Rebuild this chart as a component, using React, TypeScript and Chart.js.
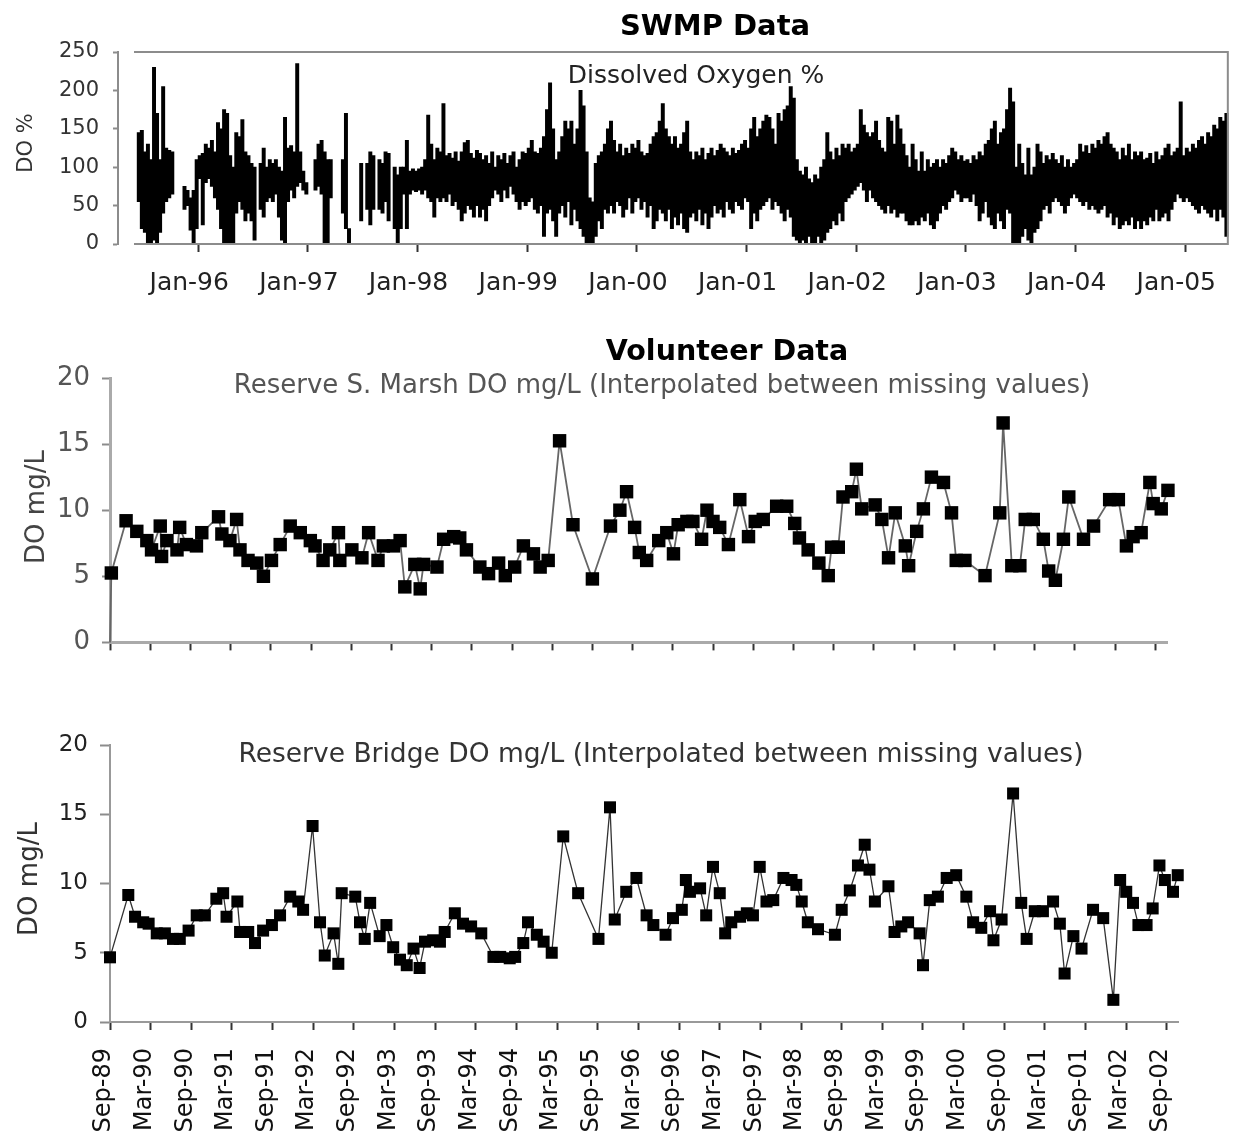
import React, { useEffect, useRef } from "react";
import { Chart, registerables } from "chart.js";

Chart.register(...registerables);

const FONT = '"DejaVu Sans", "Liberation Sans", Arial, sans-serif';
const PAGE_W = 1241;

// ---------------------------------------------------------------------------
// SWMP continuous sonde record: range of DO % within each ~10-day interval
// (36 intervals per year). [low, high]; null = no sonde data in that interval.
// ---------------------------------------------------------------------------
const swmp1995First = 16; // 1995 record starts at interval 16
const swmp1995: ([number, number] | null)[] = [
  [55, 145], [20, 148], [15, 120], [0, 130], [0, 110], [5, 230], [0, 170], [15, 110], [40, 205], [55, 125],
  [60, 122], [65, 120], null, null, null, [45, 75], [50, 70], [18, 60], [0, 70], [20, 110],
];
const swmp1996: ([number, number] | null)[] = [
  [85, 115], [25, 118], [80, 130], [85, 125], [75, 135], [60, 120], [45, 158], [20, 150], [0, 175], [0, 170],
  [0, 115], [0, 100], [40, 145], [55, 140], [45, 162], [30, 120], [40, 115], [30, 105], [5, 100], null,
  [45, 105], [35, 125], [55, 100], [60, 110], [55, 105], [65, 110], [35, 100], [5, 95], [0, 165], [55, 125],
  [70, 128], [60, 120], [75, 235], [80, 120], [70, 95], [65, 80],
];
const swmp1997: ([number, number] | null)[] = [
  null, null, [70, 110], [75, 130], [65, 135], [0, 120], [0, 110], [60, 110], null, null,
  null, [40, 110], [20, 170], [0, 20], null, null, null, [30, 105], null, [45, 105],
  [25, 120], [45, 115], null, [45, 110], [40, 105], [55, 120], [30, 118], null, [20, 100], [0, 90],
  [20, 100], [65, 100], [20, 135], [65, 95], [70, 98], [68, 95],
];
const swmp1998: ([number, number] | null)[] = [
  [70, 98], [65, 100], [70, 110], [60, 168], [55, 130], [35, 110], [60, 125], [55, 120], [60, 183], [55, 115],
  [65, 118], [50, 112], [55, 120], [45, 108], [30, 120], [40, 132], [50, 135], [45, 118], [35, 112], [50, 122],
  [35, 118], [45, 110], [30, 115], [50, 105], [60, 120], [70, 100], [65, 115], [55, 110], [70, 118], [60, 105],
  [75, 115], [65, 120], [55, 100], [45, 110], [55, 120], [50, 118],
];
const swmp1999: ([number, number] | null)[] = [
  [55, 125], [60, 135], [45, 120], [40, 118], [50, 125], [10, 140], [40, 175], [45, 210], [30, 150], [10, 110],
  [40, 120], [50, 140], [35, 160], [55, 150], [25, 160], [45, 130], [30, 150], [20, 200], [10, 180], [0, 120],
  [0, 60], [0, 55], [10, 105], [30, 115], [20, 120], [45, 130], [40, 150], [50, 160], [40, 135], [55, 120],
  [50, 130], [35, 115], [45, 125], [60, 118], [40, 130], [55, 125],
];
const swmp2000: ([number, number] | null)[] = [
  [60, 135], [45, 120], [55, 115], [35, 118], [50, 130], [20, 140], [30, 145], [45, 160], [40, 183], [30, 150],
  [45, 140], [20, 130], [35, 140], [25, 125], [40, 130], [20, 145], [15, 160], [35, 120], [40, 110], [30, 120],
  [45, 115], [25, 125], [40, 110], [20, 118], [35, 125], [50, 115], [40, 122], [45, 130], [35, 125], [55, 120],
  [45, 115], [40, 125], [55, 118], [50, 122], [45, 130], [60, 135],
];
const swmp2001: ([number, number] | null)[] = [
  [55, 125], [20, 150], [40, 165], [30, 140], [45, 150], [50, 160], [55, 168], [60, 165], [45, 150], [55, 130],
  [50, 170], [40, 160], [30, 175], [45, 180], [35, 205], [10, 190], [5, 110], [0, 95], [5, 90], [0, 100],
  [10, 85], [0, 80], [0, 90], [10, 85], [0, 100], [5, 110], [15, 145], [20, 120], [30, 110], [25, 125],
  [40, 115], [30, 130], [55, 125], [60, 130], [65, 120], [70, 125],
];
const swmp2002: ([number, number] | null)[] = [
  [75, 130], [80, 175], [70, 155], [55, 145], [70, 140], [60, 145], [55, 160], [50, 135], [45, 125], [40, 120],
  [50, 165], [40, 160], [45, 130], [35, 168], [40, 150], [40, 130], [30, 115], [25, 100], [25, 130], [30, 110],
  [25, 95], [35, 120], [30, 95], [40, 110], [25, 100], [20, 105], [30, 110], [40, 100], [50, 110], [45, 105],
  [55, 115], [60, 125], [70, 120], [65, 110], [55, 115], [60, 108],
];
const swmp2003: ([number, number] | null)[] = [
  [60, 110], [55, 105], [65, 115], [50, 110], [30, 120], [40, 115], [55, 130], [35, 135], [25, 150], [20, 160],
  [40, 130], [30, 145], [20, 150], [45, 175], [40, 203], [0, 185], [0, 100], [0, 130], [10, 105], [20, 90],
  [5, 125], [0, 90], [15, 100], [20, 130], [30, 120], [45, 105], [50, 115], [40, 110], [55, 118], [60, 110],
  [55, 105], [50, 115], [40, 100], [50, 110], [60, 100], [65, 105],
];
const swmp2004: ([number, number] | null)[] = [
  [60, 110], [55, 130], [50, 120], [55, 128], [45, 118], [50, 130], [45, 125], [40, 135], [45, 130], [50, 140],
  [35, 145], [40, 130], [25, 125], [35, 120], [20, 110], [25, 125], [30, 115], [25, 130], [35, 110], [20, 120],
  [30, 115], [20, 120], [30, 110], [25, 112], [35, 118], [30, 105], [45, 120], [30, 110], [35, 115], [40, 125],
  [30, 130], [45, 115], [55, 120], [65, 125], [60, 185], [55, 115],
];
const swmp2005: ([number, number] | null)[] = [
  [60, 125], [55, 120], [50, 130], [45, 125], [40, 135], [50, 140], [45, 130], [40, 145], [35, 140], [45, 155],
  [30, 150], [45, 165], [35, 160], [10, 170],
];

const swmpTickYears = [1996, 1997, 1998, 1999, 2000, 2001, 2002, 2003, 2004, 2005];
const swmpYTicks = [0, 50, 100, 150, 200, 250];

// ---------------------------------------------------------------------------
// Volunteer monitoring: months after Sep-89, DO mg/L
// ---------------------------------------------------------------------------
const marshMonth = [
  0, 0.2, 2.4, 4.0, 5.5, 6.2, 7.5, 7.7, 8.5, 10.0, 10.4, 11.4, 12.9, 13.7, 16.2, 16.7, 17.9, 18.9, 19.4, 20.6,
  21.9, 22.9, 24.1, 25.4, 26.9, 28.4, 29.9, 30.6, 31.8, 32.8, 34.1, 34.3, 36.1, 37.6, 38.6, 40.0, 40.8, 42.3, 43.3, 44.0,
  45.5, 46.3, 46.8, 48.8, 49.8, 51.3, 52.2, 53.2, 55.2, 56.5, 58.0, 59.0, 60.4, 61.7, 63.2, 64.2, 65.4, 67.1, 69.1, 72.0,
  74.7, 76.1, 77.1, 78.3, 79.0, 80.1, 81.9, 83.1, 84.1, 84.8, 86.1, 87.0, 88.3, 89.1, 90.0, 91.0, 92.3, 94.0, 95.3, 96.3,
  97.5, 99.5, 101.0, 102.2, 102.9, 104.2, 105.8, 107.2, 107.7, 108.7, 109.4, 110.7, 111.4, 112.2, 114.2, 115.2, 116.2, 117.2, 118.7, 119.2,
  120.4, 121.4, 122.6, 124.4, 125.6, 126.3, 127.6, 130.6, 132.8, 133.3, 134.6, 135.8, 136.6, 137.8, 139.3, 140.1, 141.1, 142.3, 143.1, 145.3,
  146.8, 149.2, 150.5, 151.7, 152.7, 153.9, 155.2, 155.7, 156.9, 157.9,
];
const marshDO = [
  0, 5.25, 9.2, 8.4, 7.7, 7.0, 8.8, 6.5, 7.7, 7.0, 8.7, 7.4, 7.3, 8.3, 9.5, 8.2, 7.7, 9.3, 7.0, 6.2,
  6.0, 5.0, 6.2, 7.4, 8.8, 8.3, 7.7, 7.3, 6.2, 7.0, 8.3, 6.2, 7.0, 6.4, 8.3, 6.2, 7.3, 7.3, 7.7, 4.2,
  5.9, 4.05, 5.9, 5.7, 7.8, 8.0, 7.9, 7.0, 5.7, 5.2, 6.0, 5.05, 5.7, 7.3, 6.7, 5.7, 6.2, 15.25, 8.9, 4.8,
  8.8, 10.0, 11.4, 8.7, 6.8, 6.2, 7.7, 8.3, 6.7, 8.9, 9.15, 9.15, 7.8, 10.0, 9.15, 8.7, 7.4, 10.8, 8.0, 9.15,
  9.3, 10.3, 10.3, 9.0, 7.9, 7.0, 6.0, 5.05, 7.2, 7.2, 11.0, 11.4, 13.1, 10.1, 10.4, 9.3, 6.4, 9.8, 7.3, 5.8,
  8.4, 10.1, 12.5, 12.1, 9.8, 6.2, 6.2, 5.05, 9.8, 16.6, 5.8, 5.8, 9.3, 9.3, 7.8, 5.4, 4.7, 7.8, 11.0, 7.8,
  8.8, 10.8, 10.8, 7.3, 8.0, 8.3, 12.1, 10.5, 10.1, 11.5,
];

const bridgeMonth = [
  0, 2.7, 3.7, 4.9, 5.7, 6.9, 8.1, 9.3, 10.3, 11.6, 12.8, 14.0, 15.7, 16.7, 17.2, 18.8, 19.2, 20.4, 21.4, 22.6,
  23.9, 25.1, 26.6, 27.8, 28.5, 29.9, 31.0, 31.7, 33.0, 33.7, 34.2, 36.2, 36.9, 37.6, 38.4, 39.8, 40.8, 41.8, 42.8, 43.8,
  44.8, 45.7, 46.5, 47.7, 48.7, 49.4, 50.9, 52.1, 53.3, 54.8, 56.6, 57.6, 59.0, 59.8, 61.0, 61.7, 63.0, 64.0, 65.2, 66.9,
  69.1, 72.1, 73.8, 74.5, 76.2, 77.7, 79.2, 80.2, 82.0, 83.1, 84.4, 85.0, 85.6, 87.1, 88.0, 89.0, 90.0, 90.8, 91.7, 93.0,
  94.0, 94.9, 95.9, 96.9, 97.9, 99.4, 100.6, 101.3, 102.1, 103.0, 104.5, 107.0, 108.0, 109.2, 110.4, 111.4, 112.1, 112.9, 114.9, 115.8,
  116.8, 117.8, 119.5, 120.0, 121.0, 122.2, 123.5, 124.9, 126.4, 127.4, 128.6, 129.9, 130.4, 131.6, 133.3, 134.5, 135.3, 136.5, 137.7, 139.2,
  140.2, 140.9, 142.2, 143.4, 145.1, 146.6, 148.1, 149.1, 150.0, 151.0, 151.8, 153.0, 153.9, 154.9, 155.7, 156.9, 157.6,
];
const bridgeDO = [
  4.67, 9.17, 7.6, 7.2, 7.1, 6.4, 6.4, 6.0, 6.0, 6.6, 7.7, 7.7, 8.9, 9.3, 7.6, 8.7, 6.5, 6.5, 5.7, 6.6,
  7.0, 7.7, 9.05, 8.7, 8.1, 14.15, 7.2, 4.8, 6.4, 4.2, 9.3, 9.05, 7.2, 6.0, 8.6, 6.2, 7.0, 5.4, 4.5, 4.1,
  5.3, 3.9, 5.8, 5.9, 5.8, 6.5, 7.85, 7.1, 6.9, 6.4, 4.7, 4.7, 4.6, 4.7, 5.7, 7.2, 6.3, 5.8, 5.0, 13.4,
  9.3, 6.0, 15.5, 7.4, 9.4, 10.4, 7.7, 7.0, 6.3, 7.5, 8.1, 10.25, 9.4, 9.65, 7.7, 11.2, 9.3, 6.4, 7.2, 7.6,
  7.85, 7.7, 11.2, 8.7, 8.8, 10.4, 10.25, 9.9, 8.7, 7.2, 6.7, 6.3, 8.1, 9.5, 11.3, 12.8, 11.0, 8.7, 9.8, 6.5,
  6.9, 7.2, 6.4, 4.1, 8.8, 9.05, 10.4, 10.6, 9.05, 7.2, 6.8, 8.0, 5.9, 7.4, 16.5, 8.6, 6.0, 8.0, 8.0, 8.7,
  7.1, 3.5, 6.2, 5.3, 8.1, 7.5, 1.6, 10.25, 9.4, 8.6, 7.0, 7.0, 8.2, 11.3, 10.25, 9.4, 10.6,
];

const volunteerTickLabels = [
  "Sep-89", "Mar-90", "Sep-90", "Mar-91", "Sep-91", "Mar-92", "Sep-92", "Mar-93", "Sep-93",
  "Mar-94", "Sep-94", "Mar-95", "Sep-95", "Mar-96", "Sep-96", "Mar-97", "Sep-97", "Mar-98",
  "Sep-98", "Mar-99", "Sep-99", "Mar-00", "Sep-00", "Mar-01", "Sep-01", "Mar-02", "Sep-02",
];
const volunteerYTicks = [0, 5, 10, 15, 20];

// ---------------------------------------------------------------------------

type Caption = { text: string; x: number; y: number; size: number; color: string; bold?: boolean; rotate?: boolean };

function captions(items: Caption[]) {
  return {
    id: "captions",
    afterDraw(chart: any) {
      const ctx = chart.ctx as CanvasRenderingContext2D;
      items.forEach((c) => {
        ctx.save();
        ctx.font = `${c.bold ? "bold " : ""}${c.size}px ${FONT}`;
        ctx.fillStyle = c.color;
        ctx.textAlign = "center";
        ctx.textBaseline = "alphabetic";
        ctx.translate(c.x, c.y);
        if (c.rotate) ctx.rotate(-Math.PI / 2);
        ctx.fillText(c.text, 0, 0);
        ctx.restore();
      });
    },
  };
}

// plot box of the SWMP panel: top, right and bottom edges, set in from the value axis
const swmpFrame = {
  id: "swmpFrame",
  afterDatasetsDraw(chart: any) {
    const { ctx, chartArea: a } = chart;
    const x0 = a.left + 16;
    ctx.save();
    ctx.strokeStyle = "#8c8c8c";
    ctx.lineWidth = 2;
    ctx.beginPath();
    ctx.moveTo(x0, a.top);
    ctx.lineTo(a.right - 1, a.top);
    ctx.lineTo(a.right - 1, a.bottom);
    ctx.lineTo(x0, a.bottom);
    ctx.stroke();
    ctx.restore();
  },
};

function yearBins(year: number, first: number, bins: ([number, number] | null)[]) {
  const out: { x: number; y: [number, number] }[] = [];
  bins.forEach((r, i) => {
    if (r) out.push({ x: year + (first + i + 0.5) / 36, y: r });
  });
  return out;
}

function swmpConfig(): any {
  const bins = [
    ...yearBins(1995, swmp1995First, swmp1995),
    ...yearBins(1996, 0, swmp1996),
    ...yearBins(1997, 0, swmp1997),
    ...yearBins(1998, 0, swmp1998),
    ...yearBins(1999, 0, swmp1999),
    ...yearBins(2000, 0, swmp2000),
    ...yearBins(2001, 0, swmp2001),
    ...yearBins(2002, 0, swmp2002),
    ...yearBins(2003, 0, swmp2003),
    ...yearBins(2004, 0, swmp2004),
    ...yearBins(2005, 0, swmp2005),
  ];
  return {
    type: "bar",
    data: {
      datasets: [
        { data: bins, backgroundColor: "#000", borderWidth: 0, barThickness: 3.3, grouped: false },
      ],
    },
    options: {
      responsive: false,
      animation: false,
      events: [],
      layout: { padding: { top: 52, right: 1, left: 0, bottom: 0 } },
      plugins: { legend: { display: false }, tooltip: { enabled: false }, title: { display: false } },
      scales: {
        x: {
          type: "linear",
          min: 1995.2688,
          max: 2005.397,
          offset: false,
          afterBuildTicks: (s: any) => {
            s.ticks = swmpTickYears.map((v) => ({ value: v }));
          },
          afterFit: (s: any) => {
            s.height = 56;
          },
          grid: { drawOnChartArea: false, drawTicks: true, tickLength: 8, tickWidth: 2, tickColor: "#333", offset: false },
          border: { display: false },
          ticks: {
            autoSkip: false,
            maxRotation: 0,
            minRotation: 0,
            padding: 16,
            labelOffset: -9,
            color: "#222",
            font: { family: FONT, size: 25 },
            callback: (v: any) => "Jan-" + String(v).slice(2),
          },
        },
        y: {
          min: 0,
          max: 250,
          afterBuildTicks: (s: any) => {
            s.ticks = swmpYTicks.map((v) => ({ value: v }));
          },
          afterFit: (s: any) => {
            s.width = 118;
          },
          grid: { drawOnChartArea: false, tickLength: 5, tickWidth: 2, color: "#8c8c8c" },
          border: { display: true, color: "#8c8c8c", width: 2 },
          ticks: { padding: 14, color: "#333", font: { family: FONT, size: 21 } },
        },
      },
    },
    plugins: [
      swmpFrame,
      captions([
        { text: "SWMP Data", x: 715, y: 35, size: 29, bold: true, color: "#000" },
        { text: "Dissolved Oxygen %", x: 696, y: 83, size: 25, color: "#222" },
        { text: "DO %", x: 32, y: 143, size: 21, color: "#333", rotate: true },
      ]),
    ],
  };
}

function volunteerConfig(opts: {
  months: number[];
  values: number[];
  max: number;
  padTop: number;
  padRight: number;
  axisHeight: number;
  axisColor: string;
  axisWidth: number;
  lineColor: string;
  lineWidth: number;
  markerRadius: number;
  tickFont: number;
  tickColor: string;
  yTickLength: number;
  showLabels: boolean;
  items: Caption[];
}): any {
  const points = opts.months.map((m, i) => ({ x: m, y: opts.values[i] }));
  return {
    type: "line",
    data: {
      datasets: [
        {
          data: points,
          borderColor: opts.lineColor,
          borderWidth: opts.lineWidth,
          tension: 0,
          clip: false,
          pointStyle: "rect",
          pointRadius: (c: any) => (c.raw && c.raw.y === 0 ? 0 : opts.markerRadius),
          pointBackgroundColor: "#000",
          pointBorderColor: "#000",
          pointBorderWidth: 0,
        },
      ],
    },
    options: {
      responsive: false,
      animation: false,
      events: [],
      layout: { padding: { top: opts.padTop, right: opts.padRight, left: 0, bottom: 0 } },
      plugins: { legend: { display: false }, tooltip: { enabled: false } },
      scales: {
        x: {
          type: "linear",
          min: 0,
          max: opts.max,
          offset: false,
          afterBuildTicks: (s: any) => {
            s.ticks = volunteerTickLabels.map((_, i) => ({ value: i * 6 }));
          },
          afterFit: (s: any) => {
            s.height = opts.axisHeight;
          },
          grid: { drawOnChartArea: false, tickLength: 8, tickWidth: 2, tickColor: "#333", offset: false },
          border: { display: true, color: opts.axisColor, width: opts.axisWidth },
          ticks: {
            display: opts.showLabels,
            autoSkip: false,
            maxRotation: 90,
            minRotation: 90,
            padding: 18,
            labelOffset: -6,
            color: "#111",
            font: { family: FONT, size: 24 },
            callback: (v: any) => volunteerTickLabels[Math.round(Number(v) / 6)],
          },
        },
        y: {
          min: 0,
          max: 20,
          afterBuildTicks: (s: any) => {
            s.ticks = volunteerYTicks.map((v) => ({ value: v }));
          },
          afterFit: (s: any) => {
            s.width = 110;
          },
          grid: { drawOnChartArea: false, tickLength: opts.yTickLength, tickWidth: 2, color: "#8c8c8c" },
          border: { display: true, color: opts.axisColor, width: opts.axisWidth },
          ticks: { padding: 12, color: opts.tickColor, font: { family: FONT, size: opts.tickFont } },
        },
      },
    },
    plugins: [captions(opts.items)],
  };
}

function marshConfig() {
  return volunteerConfig({
    months: marshMonth,
    values: marshDO,
    max: 157.76,
    padTop: 78,
    padRight: 74,
    axisHeight: 24,
    axisColor: "#aaaaaa",
    axisWidth: 3,
    lineColor: "#666",
    lineWidth: 1.8,
    markerRadius: 9.5,
    tickFont: 26,
    tickColor: "#555",
    yTickLength: 8,
    showLabels: false,
    items: [
      { text: "Volunteer Data", x: 727, y: 60, size: 28.5, bold: true, color: "#000" },
      {
        text: "Reserve S. Marsh DO mg/L (Interpolated between missing values)",
        x: 662,
        y: 93,
        size: 26,
        color: "#555",
      },
      { text: "DO mg/L", x: 44, y: 207, size: 26, color: "#444", rotate: true },
    ],
  });
}

function bridgeConfig() {
  return volunteerConfig({
    months: bridgeMonth,
    values: bridgeDO,
    max: 157.64,
    padTop: 75,
    padRight: 63,
    axisHeight: 118,
    axisColor: "#999999",
    axisWidth: 2,
    lineColor: "#333",
    lineWidth: 1.3,
    markerRadius: 8.5,
    tickFont: 23,
    tickColor: "#222",
    yTickLength: 10,
    showLabels: true,
    items: [
      {
        text: "Reserve Bridge DO mg/L (Interpolated between missing values)",
        x: 661,
        y: 92,
        size: 26.5,
        color: "#333",
      },
      { text: "DO mg/L", x: 37, y: 209, size: 26, color: "#333", rotate: true },
    ],
  });
}

function ChartCanvas({ top, height, build }: { top: number; height: number; build: () => any }) {
  const ref = useRef<HTMLCanvasElement>(null);
  useEffect(() => {
    const chart = new Chart(ref.current as HTMLCanvasElement, build());
    return () => chart.destroy();
  }, []);
  return (
    <div style={{ position: "absolute", left: 0, top, width: PAGE_W, height }}>
      <canvas ref={ref} width={PAGE_W} height={height} style={{ display: "block" }} />
    </div>
  );
}

export default function App() {
  return (
    <div style={{ position: "absolute", left: 0, top: 0, width: PAGE_W, height: 1140, background: "#fff" }}>
      <ChartCanvas top={0} height={300} build={swmpConfig} />
      <ChartCanvas top={300} height={370} build={marshConfig} />
      <ChartCanvas top={670} height={470} build={bridgeConfig} />
    </div>
  );
}
